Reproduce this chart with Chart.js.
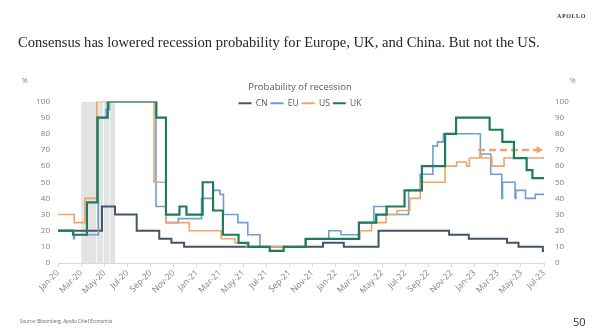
<!DOCTYPE html>
<html>
<head>
<meta charset="utf-8">
<script src="https://cdn.jsdelivr.net/npm/chart.js@4.4.0/dist/chart.umd.min.js"></script>
<style>
  html, body { margin: 0; padding: 0; background: #fff; }
  #page { position: relative; width: 600px; height: 336px; overflow: hidden; }
  #chartBox { position: absolute; left: 0; top: 0; width: 600px; height: 336px; }
  .txt { position: absolute; white-space: nowrap; line-height: 1; }
  .headline { left: 18px; top: 35px; font-family: "Liberation Serif", serif; font-size: 14.6px; color: #262626; }
  .brand { left: 557px; top: 13px; font-family: "Liberation Serif", serif; font-size: 6px; font-weight: bold; letter-spacing: 0.6px; color: #333; }
  .pct { top: 77px; font-family: "Open Sans", sans-serif; font-size: 7px; color: #7f7f7f; }
  .source { left: 20px; top: 319px; font-family: "Open Sans", sans-serif; font-size: 4.6px; color: #666; }
  .pageNo { left: 573px; top: 316px; font-family: "Open Sans", sans-serif; font-size: 11px; color: #333; }
</style>
</head>
<body>
<div id="page">
  <div id="chartBox"><canvas id="recessionChart"></canvas></div>
  <div class="txt headline">Consensus has lowered recession probability for Europe, UK, and China. But not the US.</div>
  <div class="txt brand">APOLLO</div>
  <div class="txt pct" style="left:22px">%</div>
  <div class="txt pct" style="left:570px">%</div>
  <div class="txt source">Source: Bloomberg, Apollo Chief Economist</div>
  <div class="txt pageNo">50</div>
</div>
<script>
// x = months since Jan-20, y = probability (%); each value holds until the next step
const tickLabels = ["Jan-20", "Mar-20", "May-20", "Jul-20", "Sep-20", "Nov-20", "Jan-21", "Mar-21",
  "May-21", "Jul-21", "Sep-21", "Nov-21", "Jan-22", "Mar-22", "May-22", "Jul-22", "Sep-22",
  "Nov-22", "Jan-23", "Mar-23", "May-23", "Jul-23"];

const seriesNames = ["CN", "EU", "US", "UK"];

const cnSteps = [[0, 20], [3.8, 35], [4.93, 30], [6.8, 20], [8.75, 15], [9.8, 12.5], [10.9, 10],
  [22.9, 12.5], [24.7, 10], [27.7, 20], [33.8, 17.5], [35.5, 15], [38.8, 12.5], [39.8, 10],
  [41.9, 7.5], [42.05, 7.5]];

const euSteps = [[0, 20], [1.35, 15], [1.42, 17.5], [3.48, 90], [4.15, 95], [4.45, 100], [8.47, 35],
  [9.35, 25], [10.4, 27.5], [12.4, 40], [13.4, 45], [14.0, 42.5], [14.3, 30], [15.55, 25],
  [16.4, 17.5], [17.45, 10], [21.4, 15], [23.4, 20], [24.45, 17.5], [26.0, 25], [27.3, 35],
  [28.4, 30], [30.3, 45], [31.3, 55], [32.4, 72.5], [32.8, 75], [33.3, 80], [36.5, 67.5],
  [37.4, 55], [38.35, 40], [38.42, 50], [39.5, 40], [39.57, 45], [40.4, 40], [41.25, 42.5],
  [42.05, 42.5]];

const usSteps = [[0, 30], [1.4, 25], [2.33, 40], [3.35, 100], [8.3, 50], [9.35, 25], [11.35, 20],
  [14.1, 15], [15.3, 12.5], [16.3, 10], [21.4, 15], [26.1, 20], [27.1, 25], [28.35, 30],
  [29.3, 32.5], [30.4, 40], [31.3, 50], [33.45, 60], [34.45, 62.5], [35.3, 60], [35.55, 65],
  [36.45, 67.5], [36.6, 65], [37.5, 60], [38.55, 65], [42.05, 65]];

const ukSteps = [[0, 20], [1.3, 17.5], [2.5, 37.5], [3.4, 90], [4.3, 100], [8.5, 90], [9.33, 30],
  [10.5, 35], [11.1, 30], [12.5, 50], [13.4, 32.5], [14.25, 17.5], [15.6, 12.5], [16.45, 10],
  [18.3, 7.5], [19.5, 10], [21.4, 15], [26.0, 25], [27.5, 30], [28.4, 35], [29.95, 45],
  [31.45, 60], [33.45, 80], [34.4, 90], [37.3, 82.5], [38.4, 75], [39.4, 65], [40.5, 57.5],
  [41.0, 52.5], [42.05, 52.5]];

// expected US path, drawn as a dashed arrow
const usOutlook = [[36.3, 70], [41.55, 70]];

// shaded recession months (start, end)
const recessionBands = [[2.0, 3.315], [3.34, 3.915], [3.94, 4.415], [4.44, 4.95]];

const colors = { CN: "#44546a", EU: "#6d9fd6", US: "#f2a466", UK: "#1f7b5d" };
const widths = { CN: 2, EU: 1.6, US: 1.6, UK: 2.2 };
const drawOrder = { CN: 3, EU: 2, US: 1, UK: 0 };

const toPoints = (steps) => steps.map(([x, y]) => ({ x, y }));

const lineSets = [cnSteps, euSteps, usSteps, ukSteps].map((steps, i) => {
  const name = seriesNames[i];
  return {
    label: name,
    data: toPoints(steps),
    stepped: true,
    borderColor: colors[name],
    backgroundColor: colors[name],
    borderWidth: widths[name],
    pointRadius: 0,
    pointHoverRadius: 0,
    pointStyle: "line",
    pointBorderColor: colors[name],
    pointBorderWidth: 2,
    order: drawOrder[name],
  };
});

const bandSets = recessionBands.map(([a, b]) => ({
  label: "recession",
  data: [{ x: a, y: 100 }, { x: b, y: 100 }],
  stepped: true,
  fill: "origin",
  backgroundColor: "#e3e3e3",
  borderWidth: 0,
  pointRadius: 0,
  order: 10,
}));

const outlookSet = {
  label: "US outlook",
  data: toPoints(usOutlook),
  borderColor: colors.US,
  backgroundColor: colors.US,
  borderWidth: 2.6,
  borderDash: [7, 4],
  pointRadius: (ctx) => (ctx.dataIndex === usOutlook.length - 1 ? 4.2 : 0),
  pointStyle: "triangle",
  rotation: 90,
  pointBorderWidth: 0,
  order: 1,
};

// legend sits over the top of the plot area: it takes almost no layout height,
// then its clip box is opened up again once the layout is done
const tightLegend = {
  id: "tightLegend",
  afterInit(chart) {
    const fit = chart.legend.fit;
    chart.legend.fit = function () {
      fit.call(this);
      this.height = 5.5;
    };
  },
  afterLayout(chart) {
    const lg = chart.legend;
    lg.bottom = lg.top + 20;
    lg.height = 20;
  },
};

const tickFont = { family: "Open Sans", size: 8 };
const tickColor = "#7f7f7f";

const yAxis = (position, pad, width) => ({
  type: "linear",
  position,
  min: 0,
  max: 100,
  grid: { display: false, drawTicks: false },
  border: { display: false },
  ticks: { stepSize: 10, padding: pad, font: tickFont, color: tickColor },
  afterFit(scale) { scale.width = width; },
});

new Chart(document.getElementById("recessionChart"), {
  type: "line",
  data: { datasets: [...lineSets, outlookSet, ...bandSets] },
  plugins: [tightLegend],
  options: {
    responsive: true,
    maintainAspectRatio: false,
    animation: false,
    layout: { padding: { top: 81.3, bottom: 33, left: 0, right: 0 } },
    plugins: {
      tooltip: { enabled: false },
      title: {
        display: true,
        text: "Probability of recession",
        color: "#595959",
        font: { family: "Open Sans", size: 9.5, weight: "normal" },
        padding: { top: 0, bottom: 3.3 },
      },
      legend: {
        display: true,
        position: "top",
        labels: {
          usePointStyle: true,
          pointStyleWidth: 13,
          padding: 3,
          color: "#595959",
          font: { family: "Open Sans", size: 8.5 },
          filter: (item) => seriesNames.includes(item.text),
          sort: (a, b) => a.datasetIndex - b.datasetIndex,
        },
      },
    },
    scales: {
      x: {
        type: "linear",
        min: 0,
        max: 42,
        grid: { display: true, drawOnChartArea: false, drawTicks: true, tickLength: 4, color: "#d9d9d9" },
        border: { display: true, color: "#d9d9d9" },
        ticks: {
          stepSize: 2,
          autoSkip: false,
          maxRotation: 45,
          minRotation: 45,
          padding: 1,
          font: { family: "Open Sans", size: 8.5 },
          color: tickColor,
          callback: (v) => tickLabels[v / 2],
        },
        afterFit(scale) { scale.height = 40; },
      },
      y: yAxis("left", 8, 58),
      y1: yAxis("right", 11, 56),
    },
  },
});
</script>
</body>
</html>
